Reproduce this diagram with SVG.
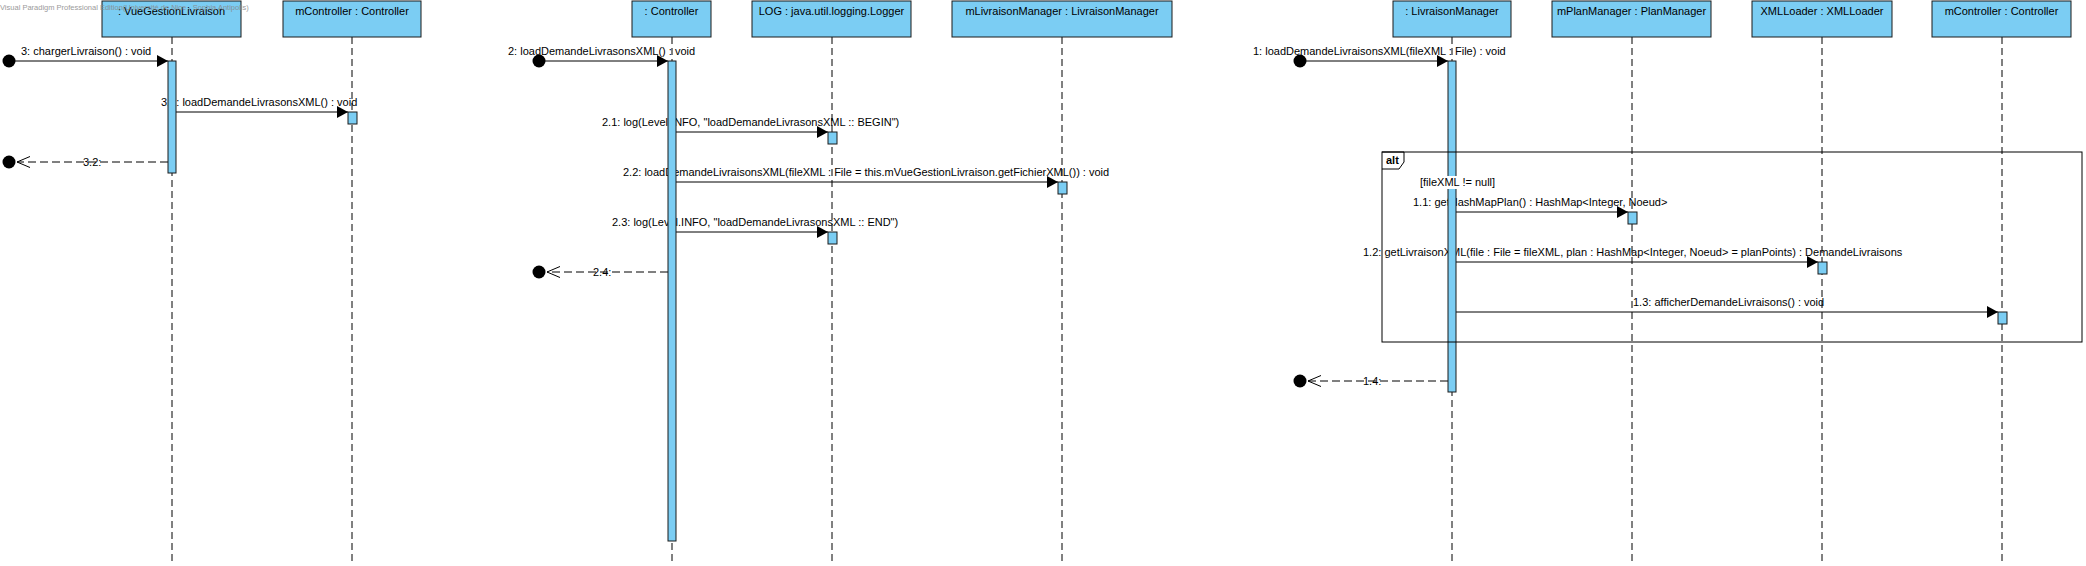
<svg xmlns="http://www.w3.org/2000/svg" width="2086" height="566" viewBox="0 0 2086 566">
<style>
text{font-family:"Liberation Sans",Arial,sans-serif;font-size:11px;fill:#000}
.box{fill:#7BCDF3;stroke:#1a1a1a;stroke-width:1}
.life{stroke:#000;stroke-width:1;stroke-dasharray:7,4;fill:none}
.act{fill:#7BCDF3;stroke:#1a1a1a;stroke-width:1}
.msg{stroke:#000;stroke-width:1;fill:none;marker-end:url(#fill)}
.ret{stroke:#000;stroke-width:1;fill:none;stroke-dasharray:8,4;marker-end:url(#open)}
.dot{fill:#000}
.mid{text-anchor:middle}
.wm{font-size:7.5px;fill:#8a8a8a;opacity:0.85}
.frame{fill:none;stroke:#000;stroke-width:1}
</style>
<defs>
<marker id="fill" markerUnits="userSpaceOnUse" markerWidth="12" markerHeight="13" refX="11" refY="6" orient="auto" viewBox="0 0 12 13">
<path d="M0,0 L11,6 L0,12 Z" fill="#000"/>
</marker>
<marker id="open" markerUnits="userSpaceOnUse" markerWidth="14" markerHeight="14" refX="13" refY="6.5" orient="auto" viewBox="0 0 14 14">
<path d="M0,1 L13,6.5 L0,12" fill="none" stroke="#000" stroke-width="1"/>
</marker>
</defs>
<rect width="2086" height="566" fill="#fff"/>

<g id="connectors">
<!-- diagram 1 -->
<circle class="dot" cx="9" cy="61" r="6.5"/>
<line class="msg" x1="9" y1="61" x2="168" y2="61"/>
<text x="21" y="55">3: chargerLivraison() : void</text>
<line class="msg" x1="176" y1="112" x2="348" y2="112"/>
<text x="161" y="106">3.1: loadDemandeLivrasonsXML() : void</text>
<circle class="dot" cx="9" cy="162" r="6.5"/>
<line class="ret" x1="168" y1="162" x2="17" y2="162"/>
<text x="83" y="166">3.2:</text>
<!-- diagram 2 -->
<circle class="dot" cx="539" cy="61" r="6.5"/>
<line class="msg" x1="539" y1="61" x2="668" y2="61"/>
<text x="508" y="55">2: loadDemandeLivrasonsXML() : void</text>
<line class="msg" x1="676" y1="132" x2="828" y2="132"/>
<text x="602" y="126">2.1: log(Level.INFO, "loadDemandeLivrasonsXML :: BEGIN")</text>
<line class="msg" x1="676" y1="182" x2="1058" y2="182"/>
<text x="623" y="176">2.2: loadDemandeLivraisonsXML(fileXML : File = this.mVueGestionLivraison.getFichierXML()) : void</text>
<line class="msg" x1="676" y1="232" x2="828" y2="232"/>
<text x="612" y="226">2.3: log(Level.INFO, "loadDemandeLivrasonsXML :: END")</text>
<circle class="dot" cx="539" cy="272" r="6.5"/>
<line class="ret" x1="668" y1="272" x2="547" y2="272"/>
<text x="593" y="276">2.4:</text>
<!-- diagram 3 -->
<circle class="dot" cx="1300" cy="61" r="6.5"/>
<line class="msg" x1="1300" y1="61" x2="1448" y2="61"/>
<text x="1253" y="55">1: loadDemandeLivraisonsXML(fileXML : File) : void</text>
<line class="msg" x1="1456" y1="212" x2="1628" y2="212"/>
<text x="1413" y="206">1.1: getHashMapPlan() : HashMap&lt;Integer, Noeud&gt;</text>
<line class="msg" x1="1456" y1="262" x2="1818" y2="262"/>
<text x="1363" y="256">1.2: getLivraisonXML(file : File = fileXML, plan : HashMap&lt;Integer, Noeud&gt; = planPoints) : DemandeLivraisons</text>
<line class="msg" x1="1456" y1="312" x2="1998" y2="312"/>
<text x="1633" y="306">1.3: afficherDemandeLivraisons() : void</text>
<circle class="dot" cx="1300" cy="381" r="6.5"/>
<line class="ret" x1="1448" y1="381" x2="1308" y2="381"/>
<text x="1363" y="385">1.4:</text>
</g>

<g id="vueGestionLivraison">
<line class="life" x1="172" y1="37" x2="172" y2="563"/>
<rect class="box" x="102" y="1" width="139" height="36"/>
<text class="mid" x="171.5" y="15">: VueGestionLivraison</text>
<rect class="act" x="168" y="61" width="8" height="112"/>
</g>
<g id="mController1">
<line class="life" x1="352" y1="37" x2="352" y2="563"/>
<rect class="box" x="283" y="1" width="138" height="36"/>
<text class="mid" x="352" y="15">mController : Controller</text>
<rect class="act" x="348" y="112" width="9" height="12"/>
</g>

<g id="controller">
<line class="life" x1="672" y1="37" x2="672" y2="563"/>
<rect class="box" x="632" y="1" width="79" height="36"/>
<text class="mid" x="671.5" y="15">: Controller</text>
<rect class="act" x="668" y="61" width="8" height="480"/>
</g>
<g id="log">
<line class="life" x1="832" y1="37" x2="832" y2="563"/>
<rect class="box" x="752" y="1" width="159" height="36"/>
<text class="mid" x="831.5" y="15">LOG : java.util.logging.Logger</text>
<rect class="act" x="828" y="132" width="9" height="12"/>
<rect class="act" x="828" y="232" width="9" height="12"/>
</g>
<g id="mLivraisonManager">
<line class="life" x1="1062" y1="37" x2="1062" y2="563"/>
<rect class="box" x="952" y="1" width="220" height="36"/>
<text class="mid" x="1062" y="15">mLivraisonManager : LivraisonManager</text>
<rect class="act" x="1058" y="182" width="9" height="12"/>
</g>

<g id="livraisonManager">
<line class="life" x1="1452" y1="37" x2="1452" y2="563"/>
<rect class="box" x="1393" y="1" width="118" height="36"/>
<text class="mid" x="1452" y="15">: LivraisonManager</text>
<rect class="act" x="1448" y="61" width="8" height="331"/>
</g>
<g id="mPlanManager">
<line class="life" x1="1632" y1="37" x2="1632" y2="563"/>
<rect class="box" x="1552" y="1" width="159" height="36"/>
<text class="mid" x="1631.5" y="15">mPlanManager : PlanManager</text>
<rect class="act" x="1628" y="212" width="9" height="12"/>
</g>
<g id="xmlLoader">
<line class="life" x1="1822" y1="37" x2="1822" y2="563"/>
<rect class="box" x="1752" y="1" width="140" height="36"/>
<text class="mid" x="1822" y="15">XMLLoader : XMLLoader</text>
<rect class="act" x="1818" y="262" width="9" height="12"/>
</g>
<g id="mController2">
<line class="life" x1="2002" y1="37" x2="2002" y2="563"/>
<rect class="box" x="1932" y="1" width="139" height="36"/>
<text class="mid" x="2001.5" y="15">mController : Controller</text>
<rect class="act" x="1998" y="312" width="9" height="12"/>
</g>

<g id="altFragment">
<rect class="frame" x="1382" y="152" width="700" height="190"/>
<path class="frame" d="M1382,152 H1404 V162 L1399,169 H1382"/>
<text x="1386" y="164" style="font-weight:bold">alt</text>
<rect x="1418" y="176" width="92" height="13" fill="#fff"/>
<text x="1420" y="186">[fileXML != null]</text>
</g>

<text class="wm" x="0" y="10">Visual Paradigm Professional Edition(Université de Nice - Sophia Antipolis)</text>
</svg>
